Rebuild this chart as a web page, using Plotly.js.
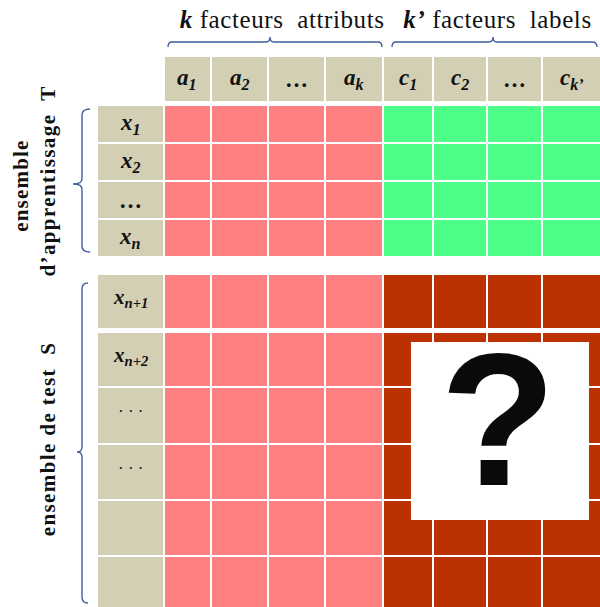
<!DOCTYPE html>
<html>
<head>
<meta charset="utf-8">
<script src="https://cdn.plot.ly/plotly-3.0.1.min.js"></script>
<style>
html,body{margin:0;padding:0;background:#fff;}
#chart{width:600px;height:607px;}
</style>
</head>
<body>
<div id="chart"></div>
<script>
// ---- data ----
const attributeCols = ["a<sub>1</sub>", "a<sub>2</sub>", "…", "a<sub>k</sub>"];
const labelCols = ["c<sub>1</sub>", "c<sub>2</sub>", "…", "c<sub>k’</sub>"];
const trainRows = ["x<sub>1</sub>", "x<sub>2</sub>", "…", "x<sub>n</sub>"];
const testRows = ["x<sub>n+1</sub>", "x<sub>n+2</sub>", "···", "···", "", ""];
const topTitles = ["<b><i>k</i></b> facteurs\u00a0 attributs", "<b><i>k’</i></b> facteurs\u00a0 labels"];
const sideTitles = ["ensemble", "d’apprentissage\u00a0 T", "ensemble de test\u00a0 S"];
// cell kinds: 0 header, 1 attribute, 2 known label, 3 unknown label
const HEADER = 0, ATTR = 1, TRAIN_LABEL = 2, TEST_LABEL = 3;

// ---- geometry (layout) ----
const colEdges = [97, 163.5, 211, 268, 325, 382.5, 432.5, 486.5, 541.5, 602];
const rowEdges = [56, 102, 105, 143, 181, 219, 257, 274, 329, 332, 387, 444, 500, 556, 609];
const rowPlan = ["header", "gap"]
  .concat(trainRows.map((_, i) => ["train", i]))
  .concat(["gap", ["test", 0], "gap"])
  .concat(testRows.slice(1).map((_, i) => ["test", i + 1]));

const nA = attributeCols.length, nC = labelCols.length;
const z = [];
const annotations = [];
const cx = i => (colEdges[i] + colEdges[i + 1]) / 2;
const cy = j => (rowEdges[j] + rowEdges[j + 1]) / 2;
const serif = "Liberation Serif";

rowPlan.forEach((r, j) => {
  if (r === "gap") { z.push(new Array(1 + nA + nC).fill(null)); return; }
  if (r === "header") {
    z.push([null].concat(new Array(nA + nC).fill(HEADER)));
    attributeCols.concat(labelCols).forEach((t, i) => {
      annotations.push({x: cx(i + 1), y: cy(j), text: t === "…" ? "<b>…</b>" : "<b><i>" + t + "</i></b>",
        showarrow: false, font: {family: serif, size: 23, color: "#111"}});
    });
    return;
  }
  const [kind, idx] = r;
  const lbl = kind === "train" ? TRAIN_LABEL : TEST_LABEL;
  z.push([HEADER].concat(new Array(nA).fill(ATTR), new Array(nC).fill(lbl)));
  const t = kind === "train" ? trainRows[idx] : testRows[idx];
  if (t) {
    let txt, size = 23, dy = 0;
    if (t === "…") txt = "<b>…</b>";
    else if (t === "···") { txt = "· · ·"; size = 17; dy = -4; }
    else { txt = "<b><i>" + t + "</i></b>"; if (kind === "test") { size = 21; dy = -4; } }
    annotations.push({x: cx(0), y: cy(j) + dy,
      text: txt, showarrow: false, font: {family: serif, size: size, color: "#111"}});
  }
});

const titleAnnots = [
  {x: 282, y: 19, text: topTitles[0], showarrow: false, font: {family: serif, size: 25, color: "#111"}},
  {x: 497, y: 19, text: topTitles[1], showarrow: false, font: {family: serif, size: 25, color: "#111"}},
  {x: 21, y: 186, text: "<b>" + sideTitles[0] + "</b>", textangle: -90, showarrow: false, font: {family: serif, size: 21, color: "#111"}},
  {x: 48, y: 181, text: "<b>" + sideTitles[1] + "</b>", textangle: -90, showarrow: false, font: {family: serif, size: 21, color: "#111"}},
  {x: 48, y: 439, text: "<b>" + sideTitles[2] + "</b>", textangle: -90, showarrow: false, font: {family: serif, size: 21, color: "#111"}},
  {x: 498, y: 419, text: "<b>?</b>", showarrow: false, font: {family: "Liberation Sans", size: 190, color: "#0a0a0a"}}
];
const allAnnots = titleAnnots.concat(annotations);

const beige = "#d3cfb5", pink = "#ff8080", green = "#4dff88", dark = "#bb3103";
const trace = {
  type: "heatmap",
  x: colEdges, y: rowEdges, z: z,
  zmin: 0, zmax: 3,
  colorscale: [[0, beige], [0.2, beige], [0.2, pink], [0.5, pink], [0.5, green], [0.8, green], [0.8, dark], [1, dark]],
  showscale: false, xgap: 2, ygap: 2, hoverinfo: "skip"
};

const brace = "#3f5f9f";
const shapes = [
  {type: "path", path: "M168,47 Q168,42 172,42 L266,42 Q270,42 270,37 Q270,42 274,42 L378,42 Q382,42 382,47", line: {color: brace, width: 1.4}},
  {type: "path", path: "M392,47 Q392,42 396,42 L489,42 Q493,42 493,37 Q493,42 497,42 L592,42 Q597,42 597,47", line: {color: brace, width: 1.4}},
  {type: "path", path: "M90,109 Q82,109 82,115 L82,179 Q82,184 73,184 Q82,184 82,189 L82,246 Q82,252 90,252", line: {color: brace, width: 1.4}},
  {type: "path", path: "M88,283 Q82,283 82,289 L82,447 Q82,452 77,452 Q82,452 82,457 L82,597 Q82,603 88,603", line: {color: brace, width: 1.4}},
  {type: "rect", x0: 411, x1: 589, y0: 342, y1: 520, fillcolor: "#ffffff", line: {width: 0}}
];

const layout = {
  width: 600, height: 607,
  margin: {l: 0, r: 0, t: 0, b: 0},
  paper_bgcolor: "#fff", plot_bgcolor: "#fff",
  xaxis: {range: [0, 600], visible: false, fixedrange: true},
  yaxis: {range: [607, 0], visible: false, fixedrange: true},
  showlegend: false,
  annotations: allAnnots,
  shapes: shapes
};

Plotly.newPlot("chart", [trace], layout, {staticPlot: true, displayModeBar: false}).then(() => {
  const spacing = {0: "0.6px", 1: "0.6px", 2: "1.2px", 3: "1.4px", 4: "1.4px"};
  Object.keys(spacing).forEach(k => {
    document.querySelectorAll('.annotation[data-index="' + k + '"] text').forEach(el => {
      el.style.letterSpacing = spacing[k];
    });
  });
});
</script>
</body>
</html>
